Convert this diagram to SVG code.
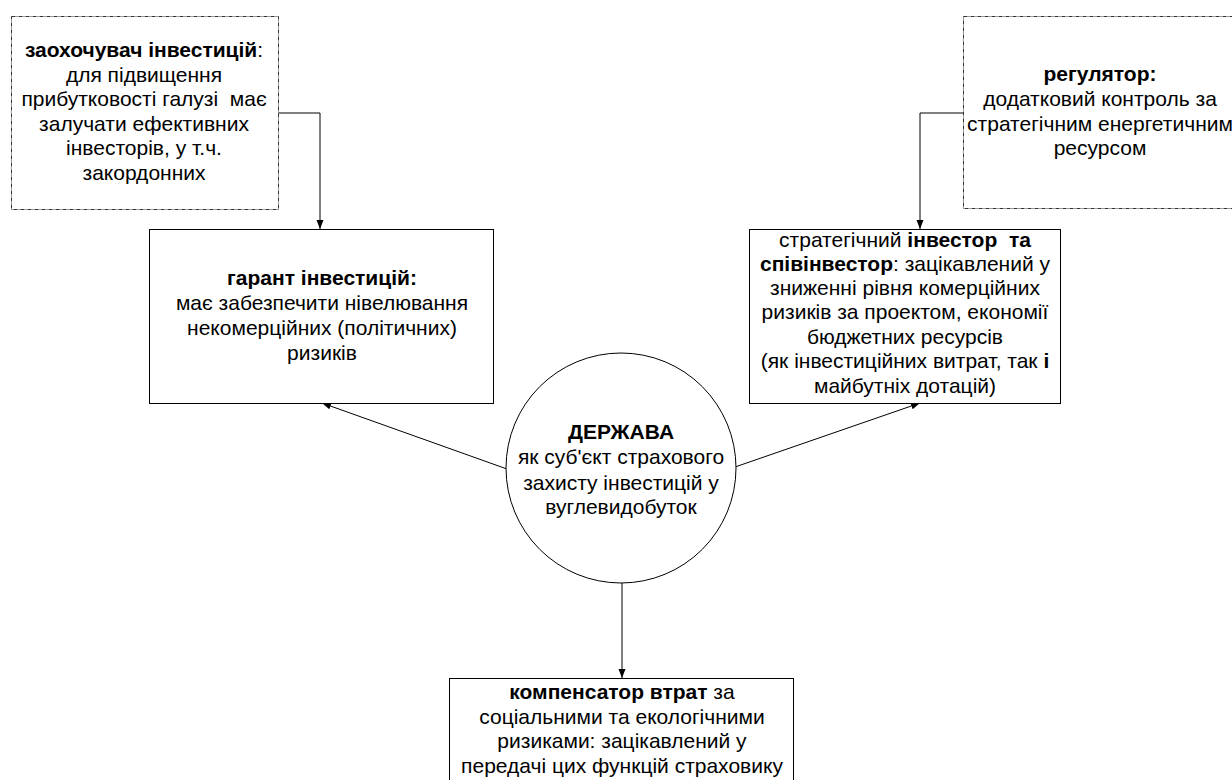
<svg xmlns="http://www.w3.org/2000/svg" width="1232" height="780" viewBox="0 0 1232 780">
<defs>
<marker id="arr" markerWidth="10" markerHeight="10" refX="9" refY="5" orient="auto" markerUnits="userSpaceOnUse">
<path d="M0,1.5 L9,5 L0,8.5 Z" fill="#000"/>
</marker>
<style>
.box{fill:#fff;stroke:#000;stroke-width:1}
.dash{fill:#fff;stroke:#333;stroke-width:1;stroke-dasharray:4 1 1 1}
.t{font-family:"Liberation Sans",Arial,sans-serif;font-size:21px;fill:#000;text-anchor:middle}
.b{font-weight:bold}
.p{white-space:pre}
.c{fill:none;stroke:#000;stroke-width:1}
</style>
</defs>
<rect width="1232" height="780" fill="#fff"/>
<g id="connectors">
<polyline class="c" points="278,113 320,113 320,229" marker-end="url(#arr)"/>
<polyline class="c" points="963,113 920,113 920,229" marker-end="url(#arr)"/>
<line class="c" x1="507" y1="469" x2="322" y2="403" marker-end="url(#arr)"/>
<line class="c" x1="735" y1="467" x2="920" y2="403" marker-end="url(#arr)"/>
<line class="c" x1="622" y1="583" x2="622" y2="678" marker-end="url(#arr)"/>
</g>
<g id="node-zaohochuvach">
<rect class="dash" x="11.5" y="16.5" width="267" height="193"/>
<text class="t" x="144" y="57"><tspan class="b">заохочувач інвестицій</tspan>:</text>
<text class="t" x="144" y="82">для підвищення</text>
<text class="t p" x="144" y="106" xml:space="preserve">прибутковості галузі  має</text>
<text class="t" x="144" y="131">залучати ефективних</text>
<text class="t" x="144" y="155">інвесторів, у т.ч.</text>
<text class="t" x="144" y="180">закордонних</text>
</g>
<g id="node-regulator">
<rect class="dash" x="963.5" y="16.5" width="274" height="192"/>
<text class="t b" x="1100" y="81">регулятор:</text>
<text class="t" x="1100" y="106">додатковий контроль за</text>
<text class="t" x="1100" y="131">стратегічним енергетичним</text>
<text class="t" x="1100" y="155">ресурсом</text>
</g>
<g id="node-garant">
<rect class="box" x="149.5" y="229.5" width="344" height="174"/>
<text class="t b" x="322" y="285">гарант інвестицій:</text>
<text class="t" x="322" y="310">має забезпечити нівелювання</text>
<text class="t" x="322" y="335">некомерційних (політичних)</text>
<text class="t" x="322" y="360">ризиків</text>
</g>
<g id="node-investor">
<rect class="box" x="749.5" y="229.5" width="311" height="174"/>
<text class="t p" x="905" y="247" xml:space="preserve">стратегічний <tspan class="b">інвестор  та</tspan></text>
<text class="t" x="905" y="271"><tspan class="b">співінвестор</tspan>: зацікавлений у</text>
<text class="t" x="905" y="295">зниженні рівня комерційних</text>
<text class="t" x="905" y="319">ризиків за проектом, економії</text>
<text class="t" x="905" y="344">бюджетних ресурсів</text>
<text class="t" x="905" y="368">(як інвестиційних витрат, так <tspan class="b">і</tspan></text>
<text class="t" x="905" y="393">майбутніх дотацій)</text>
</g>
<g id="node-derzhava">
<circle class="box" cx="621" cy="468" r="115"/>
<text class="t b" x="621" y="439">ДЕРЖАВА</text>
<text class="t" x="621" y="464">як суб'єкт страхового</text>
<text class="t" x="621" y="490">захисту інвестицій у</text>
<text class="t" x="621" y="514">вуглевидобуток</text>
</g>
<g id="node-kompensator">
<rect class="box" x="449.5" y="678.5" width="344" height="120"/>
<text class="t" x="622" y="699"><tspan class="b">компенсатор втрат</tspan> за</text>
<text class="t" x="622" y="724">соціальними та екологічними</text>
<text class="t" x="622" y="748">ризиками: зацікавлений у</text>
<text class="t" x="622" y="773">передачі цих функцій страховику</text>
</g>
</svg>
